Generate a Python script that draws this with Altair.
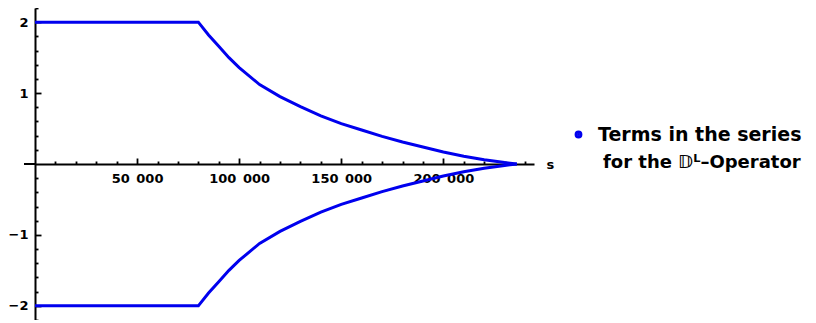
import altair as alt
import pandas as pd

# x positions (s) and the two branches of the series terms
s_vals = [0, 80000, 85000, 90000, 95000, 100000, 110000, 120000, 130000, 140000,
          150000, 160000, 170000, 180000, 190000, 200000, 210000, 220000, 230000, 236000]
upper_vals = [2.00, 2.00, 1.82, 1.66, 1.50, 1.36, 1.12, 0.95, 0.81, 0.68,
              0.57, 0.48, 0.39, 0.31, 0.24, 0.17, 0.11, 0.06, 0.02, 0.00]
lower_vals = [-2.00, -2.00, -1.82, -1.66, -1.50, -1.36, -1.12, -0.95, -0.81, -0.68,
              -0.57, -0.48, -0.39, -0.31, -0.24, -0.17, -0.11, -0.06, -0.02, 0.00]

x_major = [50000, 100000, 150000, 200000]
x_minor = list(range(10000, 240001, 10000))
y_major = [-2, -1, 1, 2]
y_minor = [-2.2, -2.0, -1.8, -1.6, -1.4, -1.2, -1.0, -0.8, -0.6, -0.4, -0.2,
           0.2, 0.4, 0.6, 0.8, 1.0, 1.2, 1.4, 1.6, 1.8, 2.0, 2.2]

legend_line1 = "Terms in the series"
legend_line2 = "for the \U0001D53B\u1D38\u2013Operator"

rows = []
for s, u in zip(s_vals, upper_vals):
    rows.append({"s": s, "v": u, "branch": "upper", "series": legend_line1})
for s, l in zip(s_vals, lower_vals):
    rows.append({"s": s, "v": l, "branch": "lower", "series": legend_line1})
df = pd.DataFrame(rows)

W, H = 499, 312
BLUE = "#0000ee"
xs = alt.Scale(domain=[0, 244400], nice=False, zero=False)
ys = alt.Scale(domain=[-2.2, 2.2], nice=False, zero=False)
FONT = "DejaVu Sans"

lines = alt.Chart(df).mark_line(strokeWidth=3, strokeJoin="miter").encode(
    x=alt.X("s:Q", scale=xs, axis=alt.Axis(
        orient="bottom", offset=-H / 2, values=x_major, ticks=False, tickSize=0, grid=False,
        domainColor="black", domainWidth=2, labelPadding=8, labelBaseline="top",
        labelFont=FONT, labelFontWeight="bold", labelFontSize=13, labelColor="black",
        labelExpr="format(datum.value/1000,'d') + '\u2002000'",
        title="s", titleX=W + 12, titleY=0, titleAlign="left", titleBaseline="middle",
        titleAngle=0, titleFont=FONT, titleFontWeight="bold", titleFontSize=13, titleColor="black")),
    y=alt.Y("v:Q", scale=ys, axis=alt.Axis(
        orient="left", values=y_major, ticks=False, tickSize=0, grid=False, domainColor="black",
        domainWidth=2, labelPadding=7, labelFont=FONT, labelFontWeight="bold",
        labelFontSize=13, labelColor="black", format="d", title=None)),
    detail="branch:N",
    color=alt.Color("series:N", scale=alt.Scale(range=[BLUE]), legend=alt.Legend(
        title=None, orient="none", legendX=W + 35, legendY=117, padding=0,
        symbolType="circle", symbolSize=8, symbolStrokeWidth=5, symbolFillColor=BLUE,
        symbolStrokeColor=BLUE, labelFont=FONT, labelFontWeight="bold", labelFontSize=19,
        labelColor="black", labelLimit=400, labelOffset=10)),
)

legend_second = alt.Chart(pd.DataFrame({"t": [legend_line2]})).mark_text(
    align="left", baseline="middle", font=FONT, fontWeight="bold", fontSize=18, color="black"
).encode(x=alt.value(W + 69), y=alt.value(155), text="t:N")

ext = alt.Chart(df).mark_rule(color="black", strokeWidth=2).encode(
    x=alt.value(-11), x2=alt.value(0), y=alt.Y(datum=0, scale=ys, axis=None)
)

ticks = alt.Chart(df).mark_point(opacity=0).encode(
    x=alt.X("s:Q", scale=xs, axis=alt.Axis(
        orient="top", offset=-H / 2, values=x_minor, tickSize=6, tickWidth=1.8,
        tickColor="black", labels=False, domain=False, grid=False, title=None,
        tickDash={"condition": {"test": "datum.value % 50000 === 0", "value": [6, 0]},
                  "value": [3, 10]})),
    y=alt.Y("v:Q", scale=ys, axis=alt.Axis(
        orient="right", offset=-W, values=y_minor, tickSize=6, tickWidth=1.8,
        tickColor="black", labels=False, domain=False, grid=False, title=None,
        tickDash={"condition": {"test": "abs(datum.value - round(datum.value)) < 0.001",
                                "value": [6, 0]},
                  "value": [3, 10]})),
)

chart = alt.layer(lines, ticks, ext, legend_second).resolve_axis(
    x="independent", y="independent"
).resolve_scale(x="shared", y="shared").properties(
    width=W, height=H, autosize=alt.AutoSizeParams(type="none"),
    padding={"left": 27, "top": 0, "right": 274, "bottom": 0},
    background="white",
).configure_view(stroke=None)

chart.save("out.html", embed_options={"renderer": "svg", "actions": False})
